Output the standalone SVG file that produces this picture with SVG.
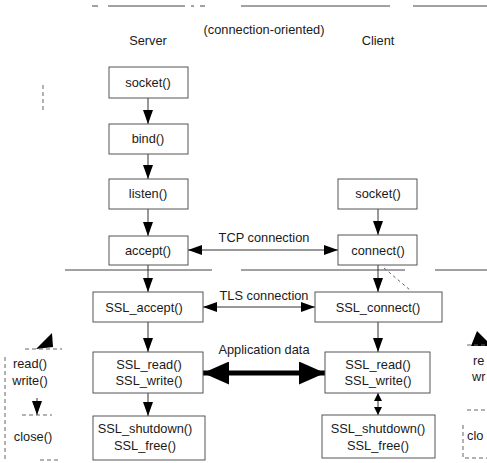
<svg xmlns="http://www.w3.org/2000/svg" width="487" height="463" viewBox="0 0 487 463">
<style>
text{font-family:"Liberation Sans",Arial,sans-serif;font-size:12.8px;fill:#1a1a1a;text-anchor:middle}
.box{fill:#fff;stroke:#555;stroke-width:1}
.dbox{fill:none;stroke:#666;stroke-width:1;stroke-dasharray:4 3}
.frame{stroke:#444;stroke-width:1;fill:none}
.ln{stroke:#333;stroke-width:1;fill:none}
.thick{stroke:#000;stroke-width:5;fill:none}
.st{text-anchor:start}
</style>
<defs>
<marker id="ah" viewBox="0 0 14 10" refX="14" refY="5" markerWidth="14" markerHeight="10" markerUnits="userSpaceOnUse" orient="auto-start-reverse">
<path d="M0,0 L14,5 L0,10 z" fill="#000"/>
</marker>
<marker id="ahs" viewBox="0 0 8 8" refX="8" refY="4" markerWidth="8" markerHeight="8" markerUnits="userSpaceOnUse" orient="auto-start-reverse">
<path d="M0,0 L8,4 L0,8 z" fill="#000"/>
</marker>
<marker id="ahb" viewBox="0 0 26 23" refX="26" refY="11.5" markerWidth="26" markerHeight="23" markerUnits="userSpaceOnUse" orient="auto-start-reverse">
<path d="M0,0 L26,11.5 L0,23 z" fill="#000"/>
</marker>
</defs>

<g id="frame">
<path class="frame" d="M92,6 H98 M108,6 H185 M191,6 H194 M200,6 H205 M241,6 H390 M413,6 H487"/>
<path class="frame" d="M65,270 H212 M241,270 H405 M435,270 H487"/>
<path class="dbox" d="M43,85 V110"/>
</g>

<g id="labels">
<text x="264" y="34">(connection-oriented)</text>
<text x="148" y="45">Server</text>
<text x="378" y="45">Client</text>
</g>

<g id="connectors">
<line class="ln" x1="148" y1="98" x2="148" y2="124" marker-end="url(#ah)"/>
<line class="ln" x1="148" y1="154" x2="148" y2="179" marker-end="url(#ah)"/>
<line class="ln" x1="148" y1="209" x2="148" y2="236" marker-end="url(#ah)"/>
<line class="ln" x1="148" y1="265" x2="148" y2="292" marker-end="url(#ah)"/>
<line class="ln" x1="148" y1="322" x2="148" y2="352" marker-end="url(#ah)"/>
<line class="ln" x1="148" y1="393" x2="148" y2="416" marker-end="url(#ah)"/>
<line class="ln" x1="378" y1="209" x2="378" y2="235" marker-end="url(#ah)"/>
<line class="ln" x1="378" y1="265" x2="378" y2="292" marker-end="url(#ah)"/>
<line class="ln" x1="378" y1="322" x2="378" y2="352" marker-end="url(#ah)"/>
<line class="ln" x1="378" y1="393" x2="378" y2="415" marker-start="url(#ahs)" marker-end="url(#ahs)"/>
<line class="ln" x1="188" y1="250" x2="338" y2="250" marker-start="url(#ah)" marker-end="url(#ah)"/>
<line class="ln" x1="203" y1="307" x2="315" y2="307" marker-start="url(#ah)" marker-end="url(#ah)"/>
<line class="thick" x1="203" y1="373" x2="325" y2="373" marker-start="url(#ahb)" marker-end="url(#ahb)"/>
<path class="dbox" d="M384,268 L410,290" style="stroke-dasharray:3 3"/>
<line class="ln" x1="37" y1="398" x2="37" y2="415" marker-end="url(#ah)"/>
<polygon points="52,333 36,349 53,347" fill="#000"/>
<polygon points="477,331 471,346 492,346" fill="#000"/>
<text x="264" y="242">TCP connection</text>
<text x="264" y="300">TLS connection</text>
<text x="264" y="354">Application data</text>
</g>

<g id="srv-socket"><rect class="box" x="109" y="67" width="79" height="31"/><text x="148" y="87">socket()</text></g>
<g id="srv-bind"><rect class="box" x="109" y="124" width="79" height="30"/><text x="148" y="143">bind()</text></g>
<g id="srv-listen"><rect class="box" x="109" y="179" width="79" height="30"/><text x="148" y="198">listen()</text></g>
<g id="srv-accept"><rect class="box" x="109" y="236" width="79" height="29"/><text x="148" y="255">accept()</text></g>
<g id="cli-socket"><rect class="box" x="338" y="179" width="79" height="30"/><text x="378" y="198">socket()</text></g>
<g id="cli-connect"><rect class="box" x="338" y="235" width="79" height="30"/><text x="378" y="255">connect()</text></g>
<g id="srv-ssl-accept"><rect class="box" x="93" y="292" width="110" height="30"/><text x="144" y="312">SSL_accept()</text></g>
<g id="cli-ssl-connect"><rect class="box" x="315" y="292" width="127" height="30"/><text x="378" y="312">SSL_connect()</text></g>
<g id="srv-ssl-rw"><rect class="box" x="93" y="352" width="110" height="41"/><text x="149" y="369">SSL_read()</text><text x="149" y="385">SSL_write()</text></g>
<g id="cli-ssl-rw"><rect class="box" x="325" y="352" width="105" height="41"/><text x="378" y="369">SSL_read()</text><text x="378" y="385">SSL_write()</text></g>
<g id="srv-ssl-shutdown"><rect class="box" x="93" y="416" width="112" height="44"/><text x="145" y="433">SSL_shutdown()</text><text x="145" y="450">SSL_free()</text></g>
<g id="cli-ssl-shutdown"><rect class="box" x="322" y="415" width="113" height="43"/><text x="378" y="433">SSL_shutdown()</text><text x="378" y="450">SSL_free()</text></g>

<g id="left-rw"><path class="dbox" d="M25,349 H62 M5,357 V460"/><text x="30" y="368">read()</text><text x="30" y="385">write()</text></g>
<g id="left-close"><path class="dbox" d="M22,415 H52 M40,460 H60"/><text x="33" y="441">close()</text></g>
<g id="right-rw"><path class="dbox" d="M467,345 H487"/><text class="st" x="473" y="365">re</text><text class="st" x="472" y="381">wr</text></g>
<g id="right-close"><path class="dbox" d="M467,410 H487 M463,425 V458 H487"/><text class="st" x="467" y="440">clo</text></g>
</svg>
